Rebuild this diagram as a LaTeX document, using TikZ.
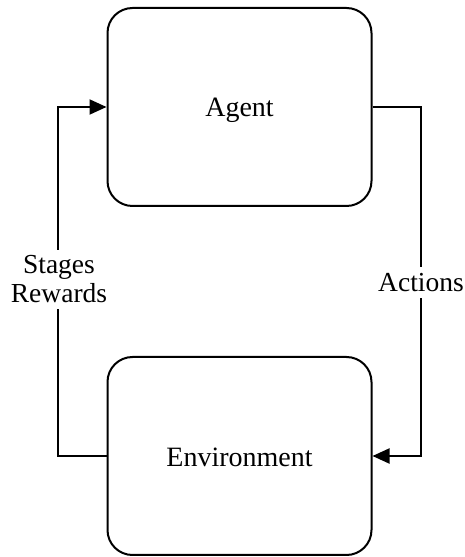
\documentclass[tikz,border=0pt]{standalone}
\usepackage{fontspec}
\setmainfont{Liberation Serif}
\usetikzlibrary{arrows.meta,calc}
\begin{document}
\begin{tikzpicture}[x=1pt,y=1pt,
  box/.style={draw,line width=2pt,rounded corners=25pt,minimum width=264pt,minimum height=198pt,inner sep=0pt},
  conn/.style={line width=2pt},
  arr/.style={conn,-{Triangle[length=17pt,width=15pt]}},
  lbl/.style={font=\fontsize{27.5}{29}\selectfont,fill=white,inner xsep=2pt,inner ysep=6pt,align=center,anchor=base},
  txt/.style={font=\fontsize{28}{30}\selectfont,anchor=base}]
\useasboundingbox (0,0) rectangle (464,557);
\node[box] (agent) at (239.5,450) {};
\node[box] (env) at (239.5,101) {};
\node[txt] (agenttxt) at (239.5,440.3) {Agent};
\node[txt] (envtxt) at (239.5,90.3) {Environment};
\coordinate (lc) at (58,0);
\coordinate (rc) at (421,0);
\draw[arr] (env.west) -| (lc |- agent.west) -- (agent.west);
\draw[arr] (agent.east) -| (rc |- env.east) -- (env.east);
\node[lbl] (rew) at (59,254) {Stages\\Rewards};
\node[lbl] (act) at (421,265.3) {Actions};
\end{tikzpicture}
\end{document}
